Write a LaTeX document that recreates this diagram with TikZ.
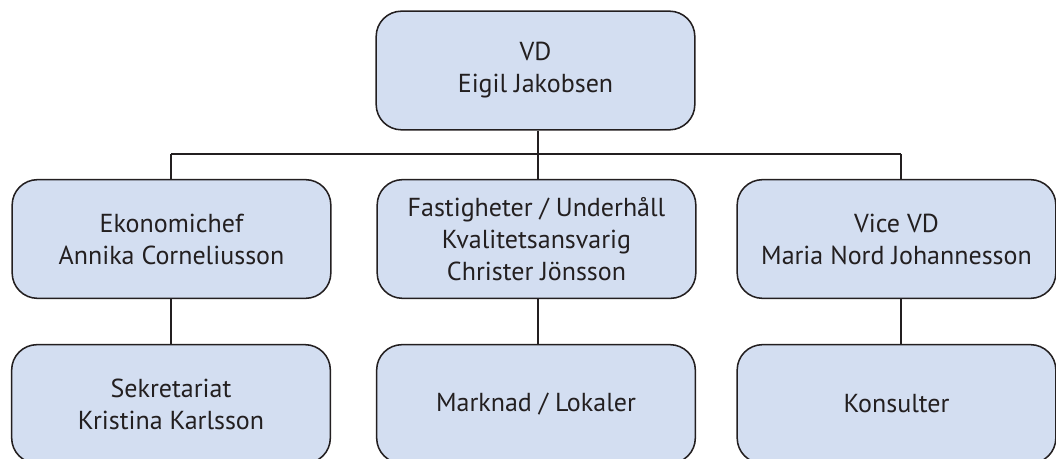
\documentclass[tikz,border=0pt]{standalone}
\usepackage{fontspec}
\setmainfont{PT Sans}
\definecolor{boxfill}{HTML}{D3DEF1}
\definecolor{ink}{HTML}{231F20}
\tikzset{
  orgbox/.style={draw=ink, line width=1.15pt, fill=boxfill, rounded corners=19pt,
    minimum width=239pt, minimum height=89pt, align=center, inner sep=0pt,
    text=ink, font=\fontsize{19.5}{24}\selectfont},
  link/.style={draw=ink, line width=2.2pt}
}
\begin{document}
\begin{tikzpicture}[x=0.75pt,y=-0.75pt]
\useasboundingbox (0,0) rectangle (1056,459);
\node[orgbox] (top) at (535.5,70.5) {VD\\Eigil Jakobsen};
\node[orgbox] (eko) at (171.5,239) {Ekonomichef\\Annika Corneliusson};
\node[orgbox] (fast) at (536.5,239) {Fastigheter / Underhåll\\Kvalitetsansvarig\\Christer Jönsson};
\node[orgbox] (vice) at (896.5,239) {Vice VD\\Maria Nord Johannesson};
\node[orgbox] (sek) at (171,404) {Sekretariat\\Kristina Karlsson};
\node[orgbox] (mark) at (536,404) {Marknad / Lokaler};
\node[orgbox] (kons) at (896.5,404) {Konsulter};
\coordinate (busL) at (171,154);
\coordinate (busM) at (538,154);
\coordinate (busR) at (901,154);
\draw[link] (top.south -| busM) -- (busM);
\draw[link] (busL) -- (busR);
\draw[link] (busL) -- (eko.north -| busL);
\draw[link] (busM) -- (fast.north -| busM);
\draw[link] (busR) -- (vice.north -| busR);
\draw[link] (eko.south -| busL) -- (sek.north -| busL);
\draw[link] (fast.south -| busM) -- (mark.north -| busM);
\draw[link] (vice.south -| busR) -- (kons.north -| busR);
\end{tikzpicture}
\end{document}
